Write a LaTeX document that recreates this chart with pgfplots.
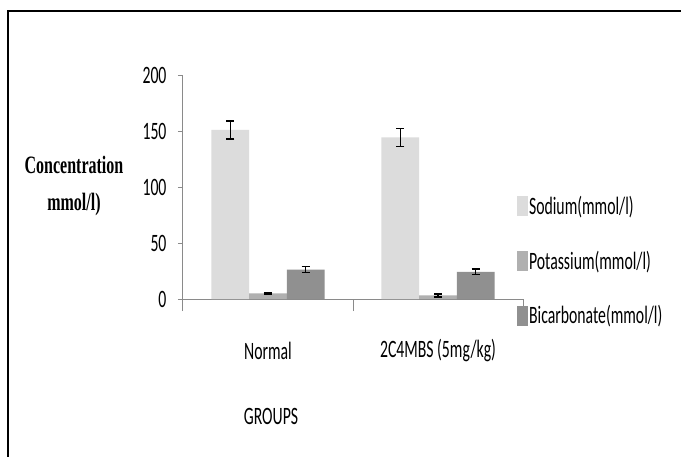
\documentclass[border=0pt]{standalone}
\usepackage{fontspec}
\setmainfont{Carlito}[FakeStretch=0.63]
\newfontfamily\labfont{Liberation Serif}[FakeStretch=0.64]
\usepackage{pgfplots}
\pgfplotsset{compat=1.18}
\definecolor{sodium}{HTML}{DCDCDC}
\definecolor{potassium}{HTML}{B0B0B0}
\definecolor{bicarb}{HTML}{909090}
\definecolor{axgray}{HTML}{8A8A8A}
\newcommand\tf{\fontsize{25}{28}\selectfont}
\begin{document}
\begin{tikzpicture}[x=1pt,y=1pt]
\useasboundingbox (0,0) rectangle (681,456);
\fill[white] (0,0) rectangle (681,456);
\draw[line width=2pt] (7.5,-2) -- (7.5,445) -- (684,445);
\begin{axis}[
  at={(183pt,157pt)}, anchor=south west,
  scale only axis, width=340pt, height=224pt,
  xmin=-0.5, xmax=1.5, ymin=0, ymax=200,
  axis lines*=left,
  axis line style={draw=axgray, line width=1pt},
  tick style={draw=axgray, line width=1pt},
  tick align=outside,
  ytick={0,50,100,150,200},
  major tick length=5pt,
  xtick={0,1},
  xticklabels={Normal,2C4MBS (5mg/kg)},
  major x tick style={draw=none},
  minor xtick={-0.5,0.5,1.5},
  minor tick length=12pt,
  /pgf/number format/assume math mode=true,
  ticklabel style={font=\tf},
  xticklabel style={anchor=center, yshift=-47pt},
  yticklabel style={xshift=-8pt},
  ybar=0pt, bar width=37.7pt,
  xlabel={GROUPS},
  every axis x label/.style={at={(axis description cs:0.2588,-0.5223)}, anchor=center, font=\tf},
  ylabel={Concentration\\mmol/l)},
  every axis y label/.style={at={(axis description cs:-0.3206,0.505)}, anchor=center, align=center, font=\labfont\bfseries\fontsize{25}{37}\selectfont},
  legend style={at={(axis description cs:0.982,0.465)}, anchor=north west, draw=none, fill=none, inner sep=0pt, font=\tf, row sep=33pt, nodes={inner sep=1pt}},
  legend cell align=left,
  legend image code/.code={\fill[#1] (0pt,-10pt) rectangle (11pt,10pt);},
  error bars/y dir=both, error bars/y explicit,
  error bars/error bar style={line width=1.5pt, black},
  error bars/error mark options={rotate=90, mark size=4pt, line width=1.5pt, black},
]
\addplot[fill=sodium, draw=none] coordinates {(0,151) +- (0,8) (1,144.3) +- (0,8)};
\addplot[fill=potassium, draw=none] coordinates {(0,5) +- (0,0.6) (1,3.2) +- (0,1.2)};
\addplot[fill=bicarb, draw=none] coordinates {(0,26.3) +- (0,2.6) (1,24.2) +- (0,2.5)};
\legend{Sodium(mmol/l),Potassium(mmol/l),Bicarbonate(mmol/l)}
\end{axis}
\end{tikzpicture}
\end{document}
